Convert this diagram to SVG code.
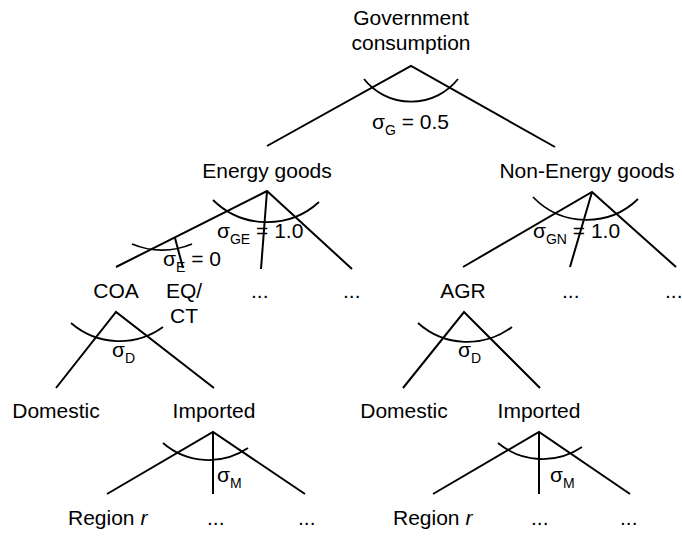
<svg xmlns="http://www.w3.org/2000/svg" width="682" height="536" viewBox="0 0 682 536">
<style>
text{font-family:"Liberation Sans",Arial,sans-serif;font-size:21px;fill:#000}
.m{text-anchor:middle}
.sub{font-size:14px}
.ln{stroke:#000;stroke-width:2;fill:none}
.arc{stroke:#000;stroke-width:1.8;fill:none}
</style>
<rect width="682" height="536" fill="#fff"/>
<g id="connectors">
<path class="ln" d="M267,146 L411,66 L555,147"/>
<path class="arc" d="M364,79 A60,60 0 0,0 458,79"/>
<path class="ln" d="M116,267 L267,191 L352,269 M267,191 L261,269"/>
<path class="arc" d="M213,200 A77,77 0 0,0 319,202"/>
<path class="ln" d="M175,238 L183,268"/>
<path class="arc" d="M132,244 A78,78 0 0,0 192,244"/>
<path class="ln" d="M463,267 L592,192 L676,267 M592,192 L570,267"/>
<path class="arc" d="M533,197 A74,74 0 0,0 638,199"/>
<path class="ln" d="M56,388 L116,312 L214,388"/>
<path class="arc" d="M71,323 A74,74 0 0,0 163,327"/>
<path class="ln" d="M403,388 L464,312 L540,388"/>
<path class="arc" d="M418,323 A74,74 0 0,0 512,327"/>
<path class="ln" d="M107,494 L213,432 L305,494 M213,432 L213,494"/>
<path class="arc" d="M163,443 A70,70 0 0,0 248,448"/>
<path class="ln" d="M433,494 L539,432 L630,494 M539,432 L539,494"/>
<path class="arc" d="M498,443 A70,70 0 0,0 582,447"/>
</g>
<g id="gov"><text class="m" x="411" y="25">Government</text><text class="m" x="411" y="50">consumption</text></g>
<g id="sigmaG"><text x="372" y="129">σ<tspan class="sub" dy="6">G</tspan><tspan dy="-6"> = 0.5</tspan></text></g>
<g id="energy"><text class="m" x="267" y="178">Energy goods</text></g>
<g id="nonenergy"><text class="m" x="587" y="178">Non-Energy goods</text></g>
<g id="sigmaGE"><text x="217" y="238">σ<tspan class="sub" dy="6">GE</tspan><tspan dy="-6"> = 1.0</tspan></text></g>
<g id="sigmaGN"><text x="533" y="238">σ<tspan class="sub" dy="6">GN</tspan><tspan dy="-6"> = 1.0</tspan></text></g>
<g id="sigmaE"><text x="163" y="266">σ<tspan class="sub" dy="6">E</tspan><tspan dy="-6"> = 0</tspan></text></g>
<g id="coa"><text class="m" x="116" y="298">COA</text></g>
<g id="eqct"><text x="166" y="298">EQ/</text><text x="170" y="323">CT</text></g>
<g id="edots1"><text x="251" y="298">...</text></g>
<g id="edots2"><text x="343" y="298">...</text></g>
<g id="agr"><text class="m" x="463" y="298">AGR</text></g>
<g id="ndots1"><text x="562" y="298">...</text></g>
<g id="ndots2"><text x="665" y="298">...</text></g>
<g id="sigmaD1"><text x="112" y="357">σ<tspan class="sub" dy="6">D</tspan></text></g>
<g id="sigmaD2"><text x="458" y="357">σ<tspan class="sub" dy="6">D</tspan></text></g>
<g id="dom1"><text class="m" x="56" y="418">Domestic</text></g>
<g id="imp1"><text class="m" x="214" y="418">Imported</text></g>
<g id="dom2"><text class="m" x="404" y="418">Domestic</text></g>
<g id="imp2"><text class="m" x="539" y="418">Imported</text></g>
<g id="sigmaM1"><text x="217" y="482">σ<tspan class="sub" dy="6">M</tspan></text></g>
<g id="sigmaM2"><text x="550" y="482">σ<tspan class="sub" dy="6">M</tspan></text></g>
<g id="reg1"><text x="68" y="525">Region <tspan font-style="italic">r</tspan></text></g>
<g id="rdots1"><text x="207" y="525">...</text></g>
<g id="rdots2"><text x="298" y="525">...</text></g>
<g id="reg2"><text x="393" y="525">Region <tspan font-style="italic">r</tspan></text></g>
<g id="rdots3"><text x="531" y="525">...</text></g>
<g id="rdots4"><text x="620" y="525">...</text></g>
</svg>
